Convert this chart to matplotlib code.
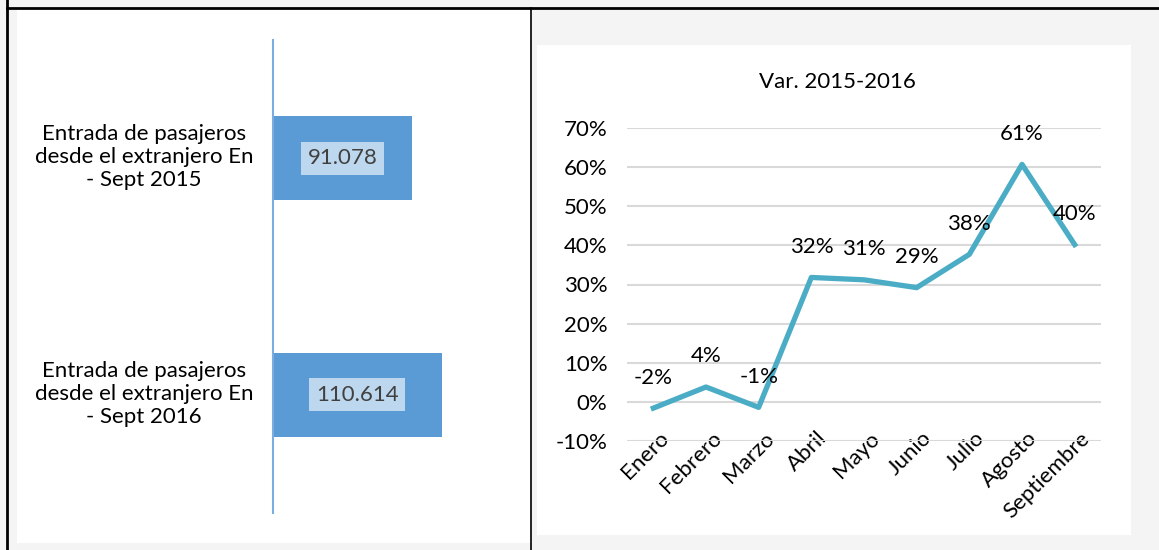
import matplotlib.pyplot as plt
from matplotlib.lines import Line2D
from matplotlib.patches import Rectangle
from matplotlib.ticker import PercentFormatter
from matplotlib.transforms import ScaledTranslation

plt.rcParams['font.family'] = ['Lato', 'DejaVu Sans']
plt.rcParams['axes.unicode_minus'] = False

# data
bar_labels = ['Entrada de pasajeros\ndesde el extranjero En\n- Sept 2015',
              'Entrada de pasajeros\ndesde el extranjero En\n- Sept 2016']
bar_values = [91.078, 110.614]
bar_texts = ['91.078', '110.614']

months = ['Enero', 'Febrero', 'Marzo', 'Abril', 'Mayo', 'Junio', 'Julio',
          'Agosto', 'Septiembre']
var_pct = [-1.6, 3.8, -1.4, 31.8, 31.2, 29.2, 37.7, 60.7, 40.2]
var_labels = ['-2%', '4%', '-1%', '32%', '31%', '29%', '38%', '61%', '40%']

FS = 16
W, H = 1159, 550
fig = plt.figure(figsize=(W / 100, H / 100), dpi=100, facecolor='#f4f4f4')


def px(x0, y0, x1, y1):
    # pixel box (top-left origin) -> figure fraction rect
    return [x0 / W, 1 - y1 / H, (x1 - x0) / W, (y1 - y0) / H]


# white panels
fig.patches.append(Rectangle((17 / W, 1 - 543 / H), (531 - 17) / W, (543 - 9) / H,
                             transform=fig.transFigure, facecolor='white',
                             edgecolor='none', zorder=-5))
fig.patches.append(Rectangle((537 / W, 1 - 535 / H), (1131 - 537) / W, (535 - 45) / H,
                             transform=fig.transFigure, facecolor='white',
                             edgecolor='none', zorder=-5))

# table borders
for xs, ys, lw in [((7, 1159), (8, 8), 2), ((7, 7), (0, 550), 2), ((531, 531), (8, 550), 1.2)]:
    fig.add_artist(Line2D([x / W for x in xs], [1 - y / H for y in ys],
                          transform=fig.transFigure, color='black', lw=lw))

# ---- left: horizontal bars ----
ax1 = fig.add_axes(px(273, 40, 520, 513))
ypos = [1, 0]
ax1.barh(ypos, bar_values, height=0.355, color='#5b9bd5')
for y, v, t in zip(ypos, bar_values, bar_texts):
    ax1.text(v / 2, y, t, ha='center', va='center', fontsize=FS, color='#404040',
             bbox=dict(boxstyle='square,pad=0.3', facecolor='#bdd7ee', edgecolor='none'))
ax1.set_xlim(0, 162)
ax1.set_ylim(-0.5, 1.5)
ax1.set_yticks([])
ax1.set_xticks([])
for s in ['top', 'right', 'bottom']:
    ax1.spines[s].set_visible(False)
ax1.spines['left'].set_color('#7aaee0')
ax1.spines['left'].set_linewidth(1.5)
ax1.patch.set_alpha(0)
for y, lab in zip([157, 394], bar_labels):
    fig.text(144 / W, 1 - y / H, lab, ha='center', va='center', fontsize=FS,
             linespacing=1.2)

# ---- right: line chart ----
ax2 = fig.add_axes(px(627, 128, 1101, 441))
x = list(range(len(months)))
ax2.plot(x, var_pct, color='#4bacc6', lw=3.8)
for xi, v, t in zip(x, var_pct, var_labels):
    ax2.annotate(t, (xi, v), xytext=(0, 22), textcoords='offset points',
                 ha='center', va='center', fontsize=FS, color='black')
ax2.set_xlim(-0.5, len(months) - 0.5)
ax2.set_ylim(-10, 70)
ax2.set_yticks(range(-10, 71, 10))
ax2.yaxis.set_major_formatter(PercentFormatter(decimals=0))
ax2.set_xticks(x)
ax2.set_xticklabels(months, rotation=45, ha='right', va='top', rotation_mode='anchor')
ax2.tick_params(axis='both', length=0, labelsize=FS)
ax2.tick_params(axis='y', pad=14)
ax2.tick_params(axis='x', pad=0)
shift = ScaledTranslation(0.05, 0.13, fig.dpi_scale_trans)
for lbl in ax2.get_xticklabels():
    lbl.set_transform(lbl.get_transform() + shift)
ax2.grid(axis='y', color='#d9d9d9', lw=1.5)
ax2.set_axisbelow(True)
for s in ax2.spines.values():
    s.set_visible(False)
ax2.patch.set_alpha(0)
fig.text(837 / W, 1 - 82 / H, 'Var. 2015-2016', ha='center', va='center', fontsize=FS)

fig.savefig('out.png', dpi=100, facecolor=fig.get_facecolor())
